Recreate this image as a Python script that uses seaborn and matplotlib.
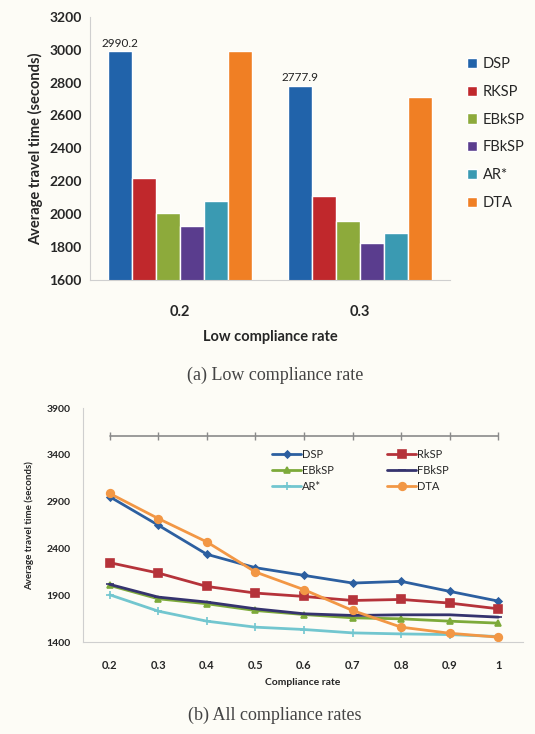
import numpy as np
import pandas as pd
import matplotlib
matplotlib.use("Agg")
import matplotlib.pyplot as plt
import seaborn as sns

sns.set_style("white")
plt.rcParams['font.family'] = ['Lato', 'DejaVu Sans']

# (a) low compliance rate
low_rates = ["0.2", "0.3"]
bar_methods = ["DSP", "RKSP", "EBkSP", "FBkSP", "AR*", "DTA"]
bar_02 = [2990.2, 2216, 2004, 1927, 2079, 2995]
bar_03 = [2777.9, 2109, 1960, 1826, 1883, 2711]
bar_colors = ["#2163AA", "#C0282C", "#8DAA3B", "#5A3D8E", "#3A9AB2", "#F07F24"]

# (b) all compliance rates
rates = ["0.2", "0.3", "0.4", "0.5", "0.6", "0.7", "0.8", "0.9", "1"]
dsp = [2954, 2650, 2339, 2196, 2114, 2032, 2050, 1943, 1839]
rksp = [2250, 2139, 1996, 1925, 1889, 1846, 1857, 1818, 1757]
ebksp = [2007, 1864, 1811, 1739, 1696, 1661, 1650, 1625, 1604]
fbksp = [2018, 1882, 1829, 1757, 1704, 1686, 1693, 1693, 1668]
arstar = [1907, 1732, 1625, 1561, 1536, 1500, 1489, 1482, 1461]
dta = [2989, 2721, 2471, 2150, 1961, 1739, 1561, 1496, 1454]
ref_line = [3600] * 9

bg = "#fdfcf6"
fig = plt.figure(figsize=(5.35, 7.34), dpi=100, facecolor=bg)

# ---- top bar chart ----
ax1 = fig.add_axes([0.168, 0.619, 0.673, 0.358], facecolor=bg)
bars = pd.DataFrame({
    "rate": np.repeat(low_rates, len(bar_methods)),
    "method": bar_methods * 2,
    "time": bar_02 + bar_03,
})
sns.barplot(data=bars, x="rate", y="time", hue="method", hue_order=bar_methods,
            palette=bar_colors, saturation=1, width=0.8, ax=ax1, legend=True)
ax1.set_ylim(1600, 3200)
ax1.set_yticks(range(1600, 3201, 200))
ax1.tick_params(axis='y', labelsize=10, length=0, pad=6)
ax1.tick_params(axis='x', labelsize=10.5, length=0, pad=18)
for lab in ax1.get_yticklabels() + ax1.get_xticklabels():
    lab.set_fontweight('bold')
ax1.set_xlabel("Low compliance rate", fontsize=10.5, fontweight='bold', labelpad=8)
ax1.set_ylabel("Average travel time (seconds)", fontsize=10.5, fontweight='bold', labelpad=4)
for s in ["top", "right"]:
    ax1.spines[s].set_visible(False)
for s in ["left", "bottom"]:
    ax1.spines[s].set_color("#cfcfcf")
    ax1.spines[s].set_linewidth(0.8)

dsp_bars = ax1.containers[0]
ax1.bar_label(dsp_bars, labels=[f"{v:.1f}" for v in [bar_02[0], bar_03[0]]],
              fontsize=8.5, padding=2, color="#222222")

h, l = ax1.get_legend_handles_labels()
ax1.legend(h, l, loc='upper left', bbox_to_anchor=(1.03, 0.87), frameon=False,
           fontsize=10.5, handlelength=0.7, handleheight=0.7, handletextpad=0.4,
           labelspacing=0.95, borderaxespad=0)

fig.text(0.514, 0.489, "(a) Low compliance rate", ha='center', va='center',
         fontsize=13, family=['Liberation Serif'], color="#444444")

# ---- bottom line chart ----
ax2 = fig.add_axes([0.155, 0.125, 0.822, 0.319], facecolor=bg)
series = [
    ("DSP", dsp, "#2C5FA0", "D", 3.5),
    ("RkSP", rksp, "#B5333A", "s", 6),
    ("EBkSP", ebksp, "#7DAA3A", "^", 5),
    ("FBkSP", fbksp, "#35336E", "_", 6),
    ("AR*", arstar, "#72C6CF", "+", 6),
    ("DTA", dta, "#F29745", "o", 5.5),
]
for name, vals, col, mk, ms in series:
    sns.lineplot(x=rates, y=vals, ax=ax2, color=col, marker=mk, markersize=ms,
                 markeredgecolor=col, markeredgewidth=1.2, linewidth=2, label=name,
                 sort=False)
ax2.plot(rates, ref_line, color="#8a8a8a", linewidth=1.2, marker='|', markersize=6)

ax2.set_ylim(1400, 3900)
ax2.set_yticks(range(1400, 3901, 500))
ax2.set_xlim(-0.55, 8.5)
ax2.set_xticks(np.arange(-0.5, 9, 1), minor=True)
ax2.tick_params(axis='x', which='major', length=0, labelsize=8, pad=13)
ax2.tick_params(axis='x', which='minor', length=4, color="#cfcfcf")
ax2.tick_params(axis='y', length=4, labelsize=7.5, color="#cfcfcf", pad=5)
for lab in ax2.get_yticklabels() + ax2.get_xticklabels():
    lab.set_fontweight('bold')
ax2.set_xlabel("Compliance rate", fontsize=7.5, fontweight='bold', labelpad=5)
ax2.set_ylabel("Average travel time (seconds)", fontsize=7, fontweight='bold', labelpad=9)
for s in ["top", "right"]:
    ax2.spines[s].set_visible(False)
for s in ["left", "bottom"]:
    ax2.spines[s].set_color("#cfcfcf")
    ax2.spines[s].set_linewidth(0.8)

h, l = ax2.get_legend_handles_labels()
order = [0, 2, 4, 1, 3, 5]
ax2.legend([h[i] for i in order], [l[i] for i in order], ncol=2,
           loc='upper left', bbox_to_anchor=(0.42, 0.845), frameon=False,
           fontsize=8, handlelength=2.6, handletextpad=0.1, labelspacing=0.45,
           columnspacing=4.8, borderaxespad=0)

fig.text(0.514, 0.026, "(b) All compliance rates", ha='center', va='center',
         fontsize=13, family=['Liberation Serif'], color="#444444")

fig.savefig("out.png", dpi=100, facecolor=bg)
